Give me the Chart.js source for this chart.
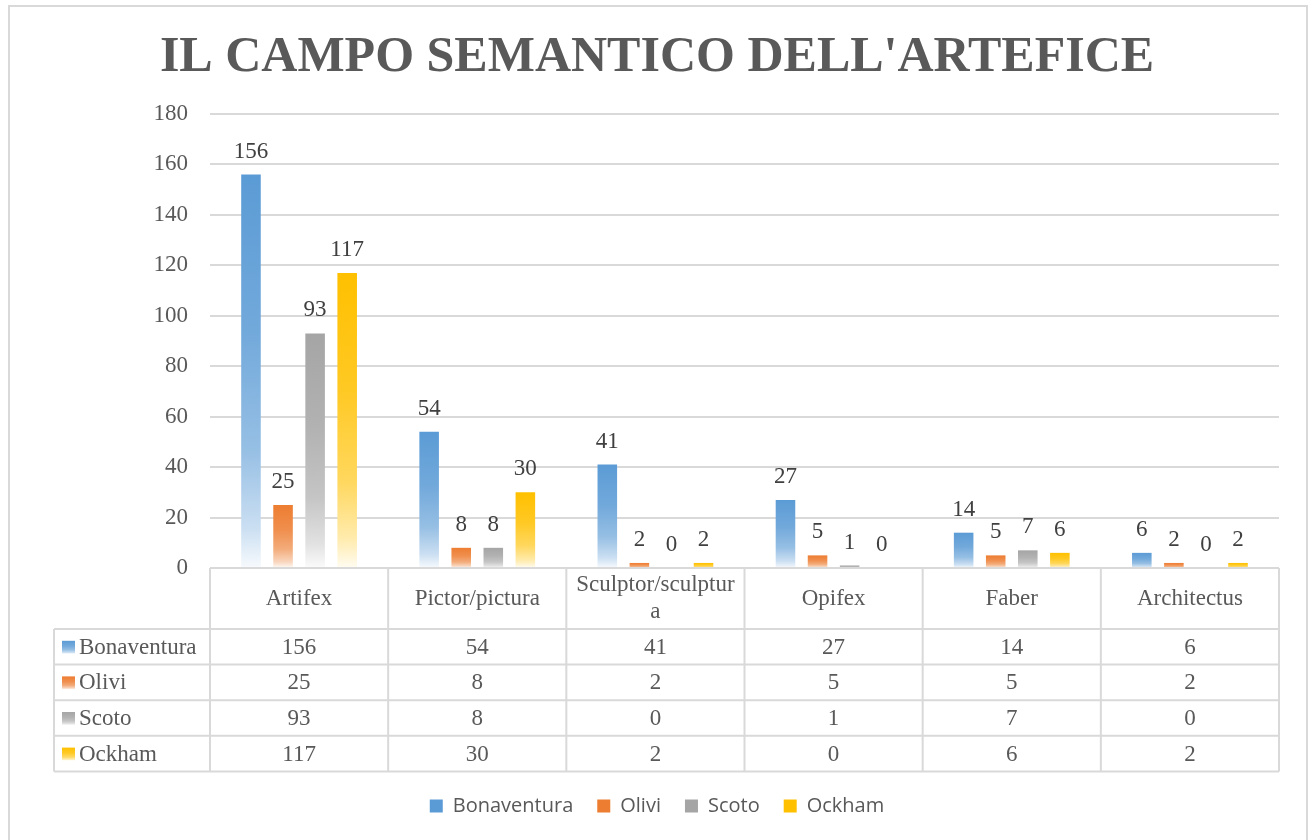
<!DOCTYPE html>
<html>
<head>
<meta charset="utf-8">
<script src="https://cdn.jsdelivr.net/npm/chart.js@4/dist/chart.umd.min.js"></script>
<style>
  html, body { margin: 0; padding: 0; background: #fff; }
  #wrap { position: relative; width: 1308px; height: 840px; }
</style>
</head>
<body>
<div id="wrap"><canvas id="c" width="1308" height="840"></canvas></div>
<script>
const titleText = "IL CAMPO SEMANTICO DELL'ARTEFICE";
const categories = ['Artifex', 'Pictor/pictura', 'Sculptor/sculptura', 'Opifex', 'Faber', 'Architectus'];
const seriesNames = ['Bonaventura', 'Olivi', 'Scoto', 'Ockham'];
const bonaventura = [156, 54, 41, 27, 14, 6];
const olivi = [25, 8, 2, 5, 5, 2];
const scoto = [93, 8, 0, 1, 7, 0];
const ockham = [117, 30, 2, 0, 6, 2];
const yTickValues = [0, 20, 40, 60, 80, 100, 120, 140, 160, 180];
const seriesColors = ['#5B9BD5', '#ED7D31', '#A5A5A5', '#FFC000'];

const SERIF = '"Liberation Serif", "Times New Roman", serif';
const SANS = '"Open Sans", "Liberation Sans", sans-serif';
const TEXT = '#595959';
const LINE = '#d9d9d9';
const FS = 23;

function hexToRgb(h) {
  const n = parseInt(h.slice(1), 16);
  return [(n >> 16) & 255, (n >> 8) & 255, n & 255];
}
function mix(hex, f) {
  const [r, g, b] = hexToRgb(hex);
  const m = (c) => Math.round(c * f + 255 * (1 - f));
  return `rgb(${m(r)},${m(g)},${m(b)})`;
}
function vGrad(ctx, top, bottom, hex) {
  const g = ctx.createLinearGradient(0, top, 0, bottom);
  g.addColorStop(0, mix(hex, 1));
  g.addColorStop(0.4, mix(hex, 0.86));
  g.addColorStop(0.7, mix(hex, 0.64));
  g.addColorStop(0.9, mix(hex, 0.32));
  g.addColorStop(1, mix(hex, 0.05));
  return g;
}

function barFill(hex) {
  return (c) => {
    const chart = c.chart;
    if (!chart.chartArea || c.type !== 'data') return hex;
    const y = chart.scales.y;
    const top = y.getPixelForValue(c.raw);
    const bottom = y.getPixelForValue(0);
    if (!(bottom - top > 0.5)) return hex;
    return vGrad(chart.ctx, top, bottom, hex);
  };
}

const seriesValues = [bonaventura, olivi, scoto, ockham];

function wrapChars(ctx, text, maxW) {
  const lines = [];
  let cur = '';
  for (const ch of text) {
    if (cur && ctx.measureText(cur + ch).width > maxW) { lines.push(cur); cur = ch; }
    else cur += ch;
  }
  if (cur) lines.push(cur);
  return lines;
}

const chartPlugin = {
  id: 'excelLook',
  beforeDraw(chart) {
    const ctx = chart.ctx;
    ctx.save();
    ctx.fillStyle = '#fff';
    ctx.fillRect(0, 0, chart.width, chart.height);
    ctx.strokeStyle = LINE;
    ctx.lineWidth = 2;
    ctx.strokeRect(9, 6, 1298, 900);
    ctx.restore();
  },
  afterDatasetsDraw(chart) {
    const ctx = chart.ctx;
    ctx.save();
    ctx.font = `${FS}px ${SERIF}`;
    ctx.fillStyle = '#404040';
    ctx.textAlign = 'center';
    ctx.textBaseline = 'middle';
    chart.data.datasets.forEach((ds, di) => {
      const meta = chart.getDatasetMeta(di);
      meta.data.forEach((el, i) => {
        ctx.fillText(String(ds.data[i]), el.x, el.y - 23);
      });
    });
    ctx.restore();
  },
  afterDraw(chart) {
    const ctx = chart.ctx;
    const area = chart.chartArea;
    const xs = chart.scales.x;
    const n = categories.length;
    const colW = (area.right - area.left) / n;
    const top = area.bottom;
    const headerH = 61;
    const rowH = 35.6;
    const keyLeft = 54;
    const tableBottom = top + headerH + rowH * seriesNames.length;
    ctx.save();
    ctx.strokeStyle = LINE;
    ctx.lineWidth = 2;
    ctx.beginPath();
    ctx.moveTo(area.left, top); ctx.lineTo(area.right, top);
    for (let r = 0; r <= seriesNames.length; r++) {
      const y = top + headerH + r * rowH;
      ctx.moveTo(keyLeft, y); ctx.lineTo(area.right, y);
    }
    for (let i = 0; i <= n; i++) {
      const x = i < n ? xs.getPixelForValue(i) - colW / 2 : xs.getPixelForValue(n - 1) + colW / 2;
      ctx.moveTo(x, top); ctx.lineTo(x, tableBottom);
    }
    ctx.moveTo(keyLeft, top + headerH); ctx.lineTo(keyLeft, tableBottom);
    ctx.stroke();

    ctx.font = `${FS}px ${SERIF}`;
    ctx.fillStyle = TEXT;
    ctx.textAlign = 'center';
    ctx.textBaseline = 'middle';
    categories.forEach((cat, i) => {
      const cx = xs.getPixelForValue(i);
      const lines = wrapChars(ctx, cat, 168);
      const lh = 27;
      const cy = top + headerH / 2;
      lines.forEach((ln, k) => {
        ctx.fillText(ln, cx, cy + (k - (lines.length - 1) / 2) * lh);
      });
    });
    seriesNames.forEach((name, r) => {
      const cy = top + headerH + r * rowH + rowH / 2;
      ctx.textAlign = 'left';
      ctx.fillStyle = vGrad(ctx, cy - 6, cy + 7, seriesColors[r]);
      ctx.fillRect(62, cy - 6, 13, 13);
      ctx.fillStyle = TEXT;
      ctx.fillText(name, 79, cy + 1);
      ctx.textAlign = 'center';
      seriesValues[r].forEach((v, i) => {
        ctx.fillText(String(v), xs.getPixelForValue(i), cy + 1);
      });
    });
    ctx.restore();
  }
};

new Chart(document.getElementById('c'), {
  type: 'bar',
  data: {
    labels: categories,
    datasets: seriesNames.map((name, k) => ({
      label: name,
      data: seriesValues[k],
      backgroundColor: barFill(seriesColors[k]),
      borderWidth: 0,
      categoryPercentage: 0.72,
      barPercentage: 0.61
    }))
  },
  options: {
    responsive: false,
    animation: false,
    devicePixelRatio: 1,
    layout: { padding: { left: 35, right: 29, top: 0, bottom: 14 } },
    plugins: {
      title: {
        display: true,
        text: titleText,
        color: TEXT,
        font: { family: SERIF, size: 50, weight: 'bold', lineHeight: 1 },
        padding: { top: 33, bottom: 31 }
      },
      legend: {
        display: true,
        position: 'bottom',
        labels: {
          color: TEXT,
          font: { family: SANS, size: 20 },
          boxWidth: 13,
          boxHeight: 13,
          padding: 24,
          generateLabels(chart) {
            return chart.data.datasets.map((ds, i) => ({
              text: ds.label,
              fillStyle: seriesColors[i],
              strokeStyle: seriesColors[i],
              lineWidth: 0,
              fontColor: TEXT,
              hidden: false,
              datasetIndex: i
            }));
          }
        }
      },
      tooltip: { enabled: false }
    },
    scales: {
      x: {
        grid: { display: false },
        border: { display: false },
        ticks: { display: false },
        afterFit(s) { s.height = 204; }
      },
      y: {
        min: 0,
        max: 180,
        afterBuildTicks(s) { s.ticks = yTickValues.map(v => ({ value: v })); },
        grid: { color: LINE, lineWidth: 2, drawTicks: false },
        border: { display: false },
        ticks: { color: TEXT, font: { family: SERIF, size: FS }, padding: 22 },
        afterFit(s) { s.width = 175; }
      }
    }
  },
  plugins: [chartPlugin]
});
</script>
</body>
</html>
